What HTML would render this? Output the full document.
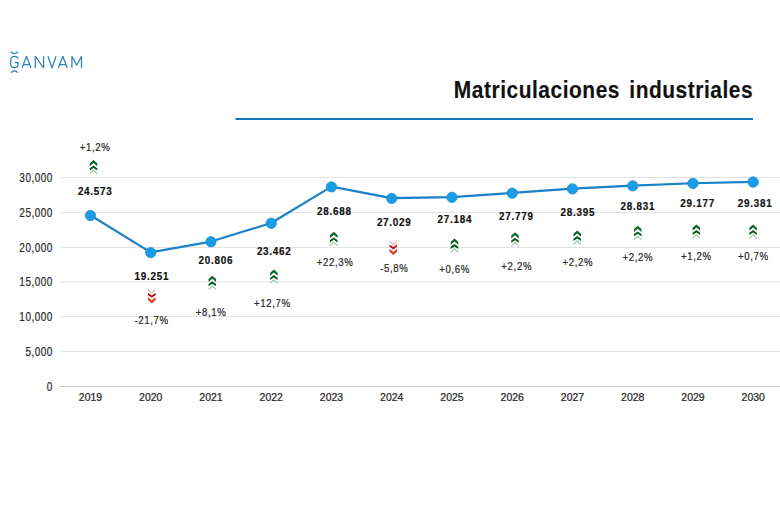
<!DOCTYPE html>
<html><head><meta charset="utf-8"><style>
html,body{margin:0;padding:0;background:#fff;width:780px;height:518px;overflow:hidden}
svg{display:block;font-family:"Liberation Sans",sans-serif}
.ax{font-size:12px;fill:#2e2e2e;stroke:#2e2e2e;stroke-width:0.25px;letter-spacing:0.6px}
.yr{font-size:11.5px;fill:#262626;stroke:#262626;stroke-width:0.25px}
.bd{font-size:11px;font-weight:bold;fill:#111;stroke:#111;stroke-width:0.2px;letter-spacing:0.8px}
.pc{font-size:11.2px;fill:#2a2a2a;stroke:#2a2a2a;stroke-width:0.22px;letter-spacing:0.75px}
.title{font-size:23px;font-weight:bold;fill:#111;stroke:#111;stroke-width:0.15px}
</style></head><body>
<svg width="780" height="518" viewBox="0 0 780 518">
<g fill="none" stroke="#2a82bc" stroke-width="1.25" stroke-linecap="butt" stroke-linejoin="bevel">
<path d="M18.2,58.6 C17.7,56.9 16.5,56.3 14.45,56.3 C11.9,56.3 10.7,57.9 10.7,60.2 L10.7,63.8 C10.7,66.2 11.9,67.7 14.45,67.7 C17,67.7 18.2,66.3 18.2,64.1 L18.2,62.5 L14.7,62.5"/>
<path d="M22.1,68 L26.55,56.2 L31,68 M23.6,64.7 L29.5,64.7"/>
<path d="M35.3,68 L35.3,56.2 L43.6,68 L43.6,56.2"/>
<path d="M47.9,56.2 L52,68 L56.1,56.2"/>
<path d="M58.4,68 L62.8,56.2 L67.2,68 M59.9,64.7 L65.7,64.7"/>
<path d="M71.9,68 L71.9,56.2 L76.7,65.2 L81.5,56.2 L81.5,68"/>
<path d="M10.9,51.7 Q14.45,55.4 18,51.7"/>
<path d="M10.9,72.6 Q14.45,68.9 18,72.6"/>
</g>
<text transform="translate(453.8,97.7) scale(0.91,1)" class="title" style="letter-spacing:0.6px">Matriculaciones</text>
<text transform="translate(753.2,97.7) scale(0.91,1)" class="title" text-anchor="end" style="letter-spacing:0.6px">industriales</text>
<rect x="235.5" y="118" width="517.5" height="2" fill="#1575bd"/>
<rect x="60" y="386" width="720" height="1" fill="#c4c4c4"/>
<text transform="translate(52.80,390.70) scale(0.83,1)" class="ax" text-anchor="end">0</text>
<rect x="60" y="351" width="720" height="1" fill="#e2e2e2"/>
<text transform="translate(52.80,355.70) scale(0.83,1)" class="ax" text-anchor="end">5,000</text>
<rect x="60" y="316" width="720" height="1" fill="#e2e2e2"/>
<text transform="translate(52.80,320.70) scale(0.83,1)" class="ax" text-anchor="end">10,000</text>
<rect x="60" y="281.5" width="720" height="1" fill="#e2e2e2"/>
<text transform="translate(52.80,286.20) scale(0.83,1)" class="ax" text-anchor="end">15,000</text>
<rect x="60" y="247" width="720" height="1" fill="#e2e2e2"/>
<text transform="translate(52.80,251.70) scale(0.83,1)" class="ax" text-anchor="end">20,000</text>
<rect x="60" y="212" width="720" height="1" fill="#e2e2e2"/>
<text transform="translate(52.80,216.70) scale(0.83,1)" class="ax" text-anchor="end">25,000</text>
<rect x="60" y="177" width="720" height="1" fill="#e2e2e2"/>
<text transform="translate(52.80,181.70) scale(0.83,1)" class="ax" text-anchor="end">30,000</text>
<text transform="translate(90.45,401) scale(0.91,1)" class="yr" text-anchor="middle">2019</text>
<text transform="translate(150.70,401) scale(0.91,1)" class="yr" text-anchor="middle">2020</text>
<text transform="translate(210.95,401) scale(0.91,1)" class="yr" text-anchor="middle">2021</text>
<text transform="translate(271.20,401) scale(0.91,1)" class="yr" text-anchor="middle">2022</text>
<text transform="translate(331.45,401) scale(0.91,1)" class="yr" text-anchor="middle">2023</text>
<text transform="translate(391.70,401) scale(0.91,1)" class="yr" text-anchor="middle">2024</text>
<text transform="translate(451.95,401) scale(0.91,1)" class="yr" text-anchor="middle">2025</text>
<text transform="translate(512.20,401) scale(0.91,1)" class="yr" text-anchor="middle">2026</text>
<text transform="translate(572.45,401) scale(0.91,1)" class="yr" text-anchor="middle">2027</text>
<text transform="translate(632.70,401) scale(0.91,1)" class="yr" text-anchor="middle">2028</text>
<text transform="translate(692.95,401) scale(0.91,1)" class="yr" text-anchor="middle">2029</text>
<text transform="translate(753.20,401) scale(0.91,1)" class="yr" text-anchor="middle">2030</text>
<polyline points="90.45,215.31 150.70,252.38 210.95,241.55 271.20,223.05 331.45,186.64 391.70,198.20 451.95,197.12 512.20,192.97 572.45,188.68 632.70,185.64 692.95,183.23 753.20,181.81" fill="none" stroke="#1a82c8" stroke-width="2.2" stroke-linejoin="round"/>
<circle cx="90.45" cy="215.51" r="5.2" fill="#1b9de6" stroke="#1888d0" stroke-width="0.7"/>
<circle cx="150.70" cy="252.58" r="5.2" fill="#1b9de6" stroke="#1888d0" stroke-width="0.7"/>
<circle cx="210.95" cy="241.75" r="5.2" fill="#1b9de6" stroke="#1888d0" stroke-width="0.7"/>
<circle cx="271.20" cy="223.25" r="5.2" fill="#1b9de6" stroke="#1888d0" stroke-width="0.7"/>
<circle cx="331.45" cy="186.84" r="5.2" fill="#1b9de6" stroke="#1888d0" stroke-width="0.7"/>
<circle cx="391.70" cy="198.40" r="5.2" fill="#1b9de6" stroke="#1888d0" stroke-width="0.7"/>
<circle cx="451.95" cy="197.32" r="5.2" fill="#1b9de6" stroke="#1888d0" stroke-width="0.7"/>
<circle cx="512.20" cy="193.17" r="5.2" fill="#1b9de6" stroke="#1888d0" stroke-width="0.7"/>
<circle cx="572.45" cy="188.88" r="5.2" fill="#1b9de6" stroke="#1888d0" stroke-width="0.7"/>
<circle cx="632.70" cy="185.84" r="5.2" fill="#1b9de6" stroke="#1888d0" stroke-width="0.7"/>
<circle cx="692.95" cy="183.43" r="5.2" fill="#1b9de6" stroke="#1888d0" stroke-width="0.7"/>
<circle cx="753.20" cy="182.01" r="5.2" fill="#1b9de6" stroke="#1888d0" stroke-width="0.7"/>
<text transform="translate(95.16,194.70) scale(0.9,1)" class="bd" text-anchor="middle">24.573</text>
<path d="M89.75,173.20 L93.50,169.60 L97.25,173.20 L97.25,174.60 L93.50,171.00 L89.75,174.60 Z" fill="#8fc49b"/><path d="M89.75,168.20 L93.50,165.60 L97.25,168.20 L97.25,170.60 L93.50,168.00 L89.75,170.60 Z" fill="#095a1f"/><path d="M89.75,163.30 L93.50,160.00 L97.25,163.30 L97.25,166.30 L93.50,163.00 L89.75,166.30 Z" fill="#0e6726"/>
<text transform="translate(95.10,150.50) scale(0.86,1)" class="pc" text-anchor="middle">+1,2%</text>
<text transform="translate(151.86,280.30) scale(0.9,1)" class="bd" text-anchor="middle">19.251</text>
<path d="M148.05,290.20 L151.80,293.80 L155.55,290.20 L155.55,288.80 L151.80,292.40 L148.05,288.80 Z" fill="#e9a3a3"/><path d="M148.05,295.20 L151.80,297.80 L155.55,295.20 L155.55,292.80 L151.80,295.40 L148.05,292.80 Z" fill="#b0161e"/><path d="M148.05,300.10 L151.80,303.40 L155.55,300.10 L155.55,297.10 L151.80,300.40 L148.05,297.10 Z" fill="#de3a20"/>
<text transform="translate(151.60,323.50) scale(0.86,1)" class="pc" text-anchor="middle">-21,7%</text>
<text transform="translate(215.86,264.20) scale(0.9,1)" class="bd" text-anchor="middle">20.806</text>
<path d="M208.55,288.90 L212.30,285.30 L216.05,288.90 L216.05,290.30 L212.30,286.70 L208.55,290.30 Z" fill="#8fc49b"/><path d="M208.55,283.90 L212.30,281.30 L216.05,283.90 L216.05,286.30 L212.30,283.70 L208.55,286.30 Z" fill="#095a1f"/><path d="M208.55,279.00 L212.30,275.70 L216.05,279.00 L216.05,282.00 L212.30,278.70 L208.55,282.00 Z" fill="#0e6726"/>
<text transform="translate(211.10,316.20) scale(0.86,1)" class="pc" text-anchor="middle">+8,1%</text>
<text transform="translate(274.16,254.90) scale(0.9,1)" class="bd" text-anchor="middle">23.462</text>
<path d="M270.15,282.70 L273.90,279.10 L277.65,282.70 L277.65,284.10 L273.90,280.50 L270.15,284.10 Z" fill="#8fc49b"/><path d="M270.15,277.70 L273.90,275.10 L277.65,277.70 L277.65,280.10 L273.90,277.50 L270.15,280.10 Z" fill="#095a1f"/><path d="M270.15,272.80 L273.90,269.50 L277.65,272.80 L277.65,275.80 L273.90,272.50 L270.15,275.80 Z" fill="#0e6726"/>
<text transform="translate(272.30,306.90) scale(0.86,1)" class="pc" text-anchor="middle">+12,7%</text>
<text transform="translate(334.36,215.10) scale(0.9,1)" class="bd" text-anchor="middle">28.688</text>
<path d="M330.05,245.00 L333.80,241.40 L337.55,245.00 L337.55,246.40 L333.80,242.80 L330.05,246.40 Z" fill="#8fc49b"/><path d="M330.05,240.00 L333.80,237.40 L337.55,240.00 L337.55,242.40 L333.80,239.80 L330.05,242.40 Z" fill="#095a1f"/><path d="M330.05,235.10 L333.80,231.80 L337.55,235.10 L337.55,238.10 L333.80,234.80 L330.05,238.10 Z" fill="#0e6726"/>
<text transform="translate(335.10,265.50) scale(0.86,1)" class="pc" text-anchor="middle">+22,3%</text>
<text transform="translate(394.16,225.50) scale(0.9,1)" class="bd" text-anchor="middle">27.029</text>
<path d="M389.55,241.80 L393.30,245.40 L397.05,241.80 L397.05,240.40 L393.30,244.00 L389.55,240.40 Z" fill="#e9a3a3"/><path d="M389.55,246.80 L393.30,249.40 L397.05,246.80 L397.05,244.40 L393.30,247.00 L389.55,244.40 Z" fill="#b0161e"/><path d="M389.55,251.70 L393.30,255.00 L397.05,251.70 L397.05,248.70 L393.30,252.00 L389.55,248.70 Z" fill="#de3a20"/>
<text transform="translate(394.30,272.20) scale(0.86,1)" class="pc" text-anchor="middle">-5,8%</text>
<text transform="translate(454.86,223.20) scale(0.9,1)" class="bd" text-anchor="middle">27.184</text>
<path d="M450.75,251.60 L454.50,248.00 L458.25,251.60 L458.25,253.00 L454.50,249.40 L450.75,253.00 Z" fill="#8fc49b"/><path d="M450.75,246.60 L454.50,244.00 L458.25,246.60 L458.25,249.00 L454.50,246.40 L450.75,249.00 Z" fill="#095a1f"/><path d="M450.75,241.70 L454.50,238.40 L458.25,241.70 L458.25,244.70 L454.50,241.40 L450.75,244.70 Z" fill="#0e6726"/>
<text transform="translate(454.60,273.20) scale(0.86,1)" class="pc" text-anchor="middle">+0,6%</text>
<text transform="translate(516.36,220.30) scale(0.9,1)" class="bd" text-anchor="middle">27.779</text>
<path d="M511.25,245.40 L515.00,241.80 L518.75,245.40 L518.75,246.80 L515.00,243.20 L511.25,246.80 Z" fill="#8fc49b"/><path d="M511.25,240.40 L515.00,237.80 L518.75,240.40 L518.75,242.80 L515.00,240.20 L511.25,242.80 Z" fill="#095a1f"/><path d="M511.25,235.50 L515.00,232.20 L518.75,235.50 L518.75,238.50 L515.00,235.20 L511.25,238.50 Z" fill="#0e6726"/>
<text transform="translate(516.70,270.00) scale(0.86,1)" class="pc" text-anchor="middle">+2,2%</text>
<text transform="translate(577.86,215.50) scale(0.9,1)" class="bd" text-anchor="middle">28.395</text>
<path d="M573.45,243.60 L577.20,240.00 L580.95,243.60 L580.95,245.00 L577.20,241.40 L573.45,245.00 Z" fill="#8fc49b"/><path d="M573.45,238.60 L577.20,236.00 L580.95,238.60 L580.95,241.00 L577.20,238.40 L573.45,241.00 Z" fill="#095a1f"/><path d="M573.45,233.70 L577.20,230.40 L580.95,233.70 L580.95,236.70 L577.20,233.40 L573.45,236.70 Z" fill="#0e6726"/>
<text transform="translate(577.80,265.90) scale(0.86,1)" class="pc" text-anchor="middle">+2,2%</text>
<text transform="translate(637.86,209.60) scale(0.9,1)" class="bd" text-anchor="middle">28.831</text>
<path d="M633.95,239.00 L637.70,235.40 L641.45,239.00 L641.45,240.40 L637.70,236.80 L633.95,240.40 Z" fill="#8fc49b"/><path d="M633.95,234.00 L637.70,231.40 L641.45,234.00 L641.45,236.40 L637.70,233.80 L633.95,236.40 Z" fill="#095a1f"/><path d="M633.95,229.10 L637.70,225.80 L641.45,229.10 L641.45,232.10 L637.70,228.80 L633.95,232.10 Z" fill="#0e6726"/>
<text transform="translate(637.80,261.20) scale(0.86,1)" class="pc" text-anchor="middle">+2,2%</text>
<text transform="translate(697.56,206.90) scale(0.9,1)" class="bd" text-anchor="middle">29.177</text>
<path d="M692.65,237.70 L696.40,234.10 L700.15,237.70 L700.15,239.10 L696.40,235.50 L692.65,239.10 Z" fill="#8fc49b"/><path d="M692.65,232.70 L696.40,230.10 L700.15,232.70 L700.15,235.10 L696.40,232.50 L692.65,235.10 Z" fill="#095a1f"/><path d="M692.65,227.80 L696.40,224.50 L700.15,227.80 L700.15,230.80 L696.40,227.50 L692.65,230.80 Z" fill="#0e6726"/>
<text transform="translate(696.30,260.00) scale(0.86,1)" class="pc" text-anchor="middle">+1,2%</text>
<text transform="translate(755.06,206.90) scale(0.9,1)" class="bd" text-anchor="middle">29.381</text>
<path d="M749.35,237.70 L753.10,234.10 L756.85,237.70 L756.85,239.10 L753.10,235.50 L749.35,239.10 Z" fill="#8fc49b"/><path d="M749.35,232.70 L753.10,230.10 L756.85,232.70 L756.85,235.10 L753.10,232.50 L749.35,235.10 Z" fill="#095a1f"/><path d="M749.35,227.80 L753.10,224.50 L756.85,227.80 L756.85,230.80 L753.10,227.50 L749.35,230.80 Z" fill="#0e6726"/>
<text transform="translate(753.30,260.00) scale(0.86,1)" class="pc" text-anchor="middle">+0,7%</text>
</svg>
</body></html>
